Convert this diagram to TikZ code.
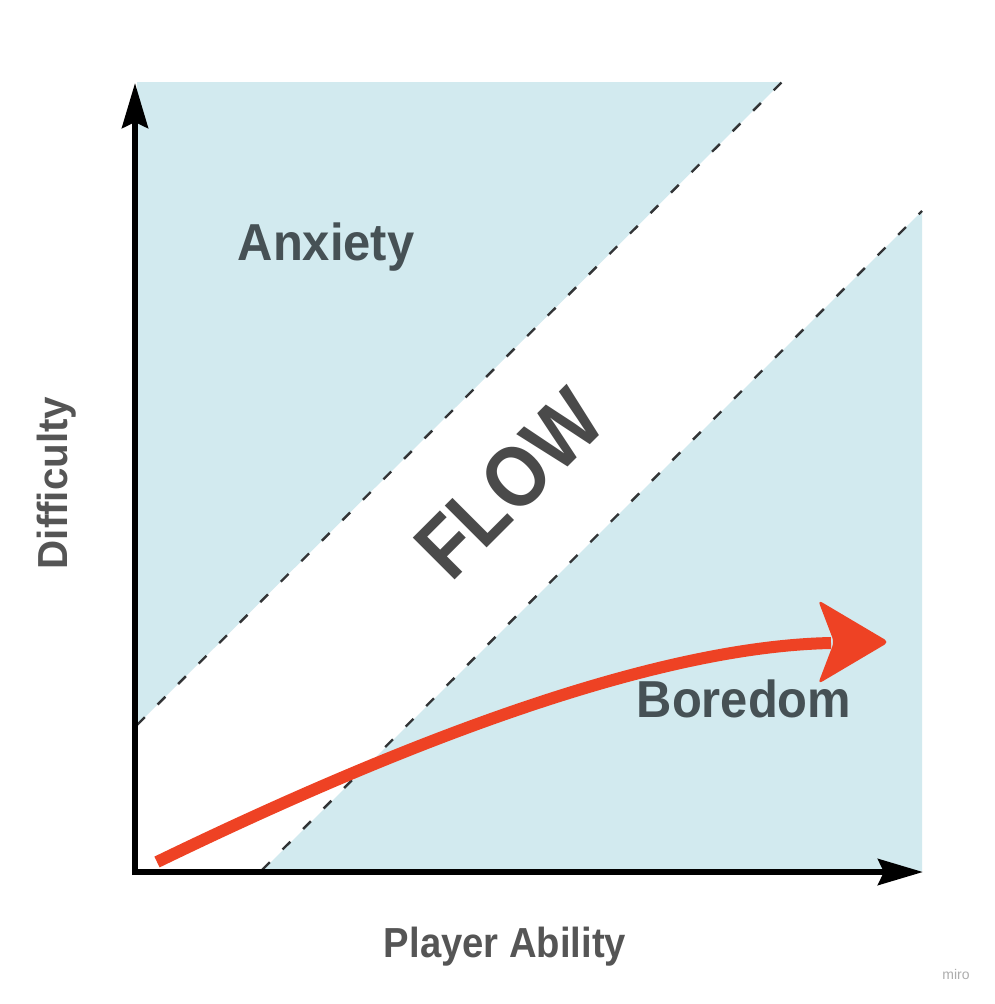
\documentclass[tikz,border=0pt]{standalone}
\usepackage{fontspec}
\usepackage{graphicx}
\setmainfont{Liberation Sans}
\usetikzlibrary{arrows.meta}
\definecolor{zoneblue}{RGB}{210,234,239}
\definecolor{flowred}{RGB}{238,66,36}
\definecolor{zonetext}{RGB}{70,81,85}
\definecolor{flowtext}{RGB}{74,74,74}
\definecolor{axistext}{RGB}{85,85,85}
\definecolor{dashgray}{RGB}{50,52,54}
\newcommand\hsqz[2]{\scalebox{#1}[1]{#2}}
\begin{document}
\begin{tikzpicture}[x=1pt,y=-1pt,
  zoneline/.style={dashgray, line width=2.4pt, dash pattern=on 11pt off 18pt},
  axisline/.style={black, line width=6pt, -{Stealth[length=45pt,width=26pt,inset=6pt]}},
  redline/.style={flowred, line width=12pt},
  zonelabel/.style={inner sep=0pt, anchor=base, text=zonetext, font=\fontsize{52}{52}\selectfont\bfseries},
  flowlabel/.style={inner sep=0pt, text=flowtext, font=\fontsize{86}{86}\selectfont\bfseries},
  axislabel/.style={inner sep=0pt, anchor=base, text=axistext, font=\fontsize{42}{42}\selectfont\bfseries},
  marklabel/.style={inner sep=0pt, anchor=base, text=black!32, font=\fontsize{14}{14}\selectfont}
]
\useasboundingbox (0,0) rectangle (995,1004);
\fill[white] (0,0) rectangle (995,1004);
% zones
\fill[zoneblue] (137,82) -- (782,82) -- (137,725) -- cycle;
\fill[zoneblue] (262,871) -- (922,211) -- (922,871) -- cycle;
% zone borders
\coordinate (ua) at (137,725);
\coordinate (ub) at (782,82);
\coordinate (la) at (262,870);
\coordinate (lb) at (922,211);
\draw[zoneline] (ua) -- (ub);
\draw[zoneline] (la) -- (lb);
% axes
\coordinate (origin) at (135,872);
\coordinate (ytop) at (135,83);
\coordinate (xend) at (923,872);
\draw[axisline] ([yshift=-3pt]origin) -- (ytop);
\draw[axisline] ([xshift=-3pt]origin) -- (xend);
% red path
\coordinate (rs) at (157,862);
\coordinate (re) at (831,643);
\draw[redline] (rs) .. controls (452,719) and (677,646) .. (re);
\fill[flowred, rounded corners=5pt] (889,642) -- (818,600) -- (834,642) -- (818,684) -- cycle;
% labels
\node[zonelabel] (anx) at (326,260) {\hsqz{0.94}{Anxiety}};
\node[zonelabel] (bor) at (744,717) {\hsqz{0.94}{Boredom}};
\node[flowlabel, rotate=45] (flow) at (509,484) {\hsqz{0.88}{FLOW}};
\node[axislabel] (pa) at (505,957) {\hsqz{0.91}{Player Ability}};
\node[axislabel, rotate=90] (dif) at (67,483) {\hsqz{0.96}{Difficulty}};
\node[marklabel] (miro) at (956,979) {miro};
\end{tikzpicture}
\end{document}
